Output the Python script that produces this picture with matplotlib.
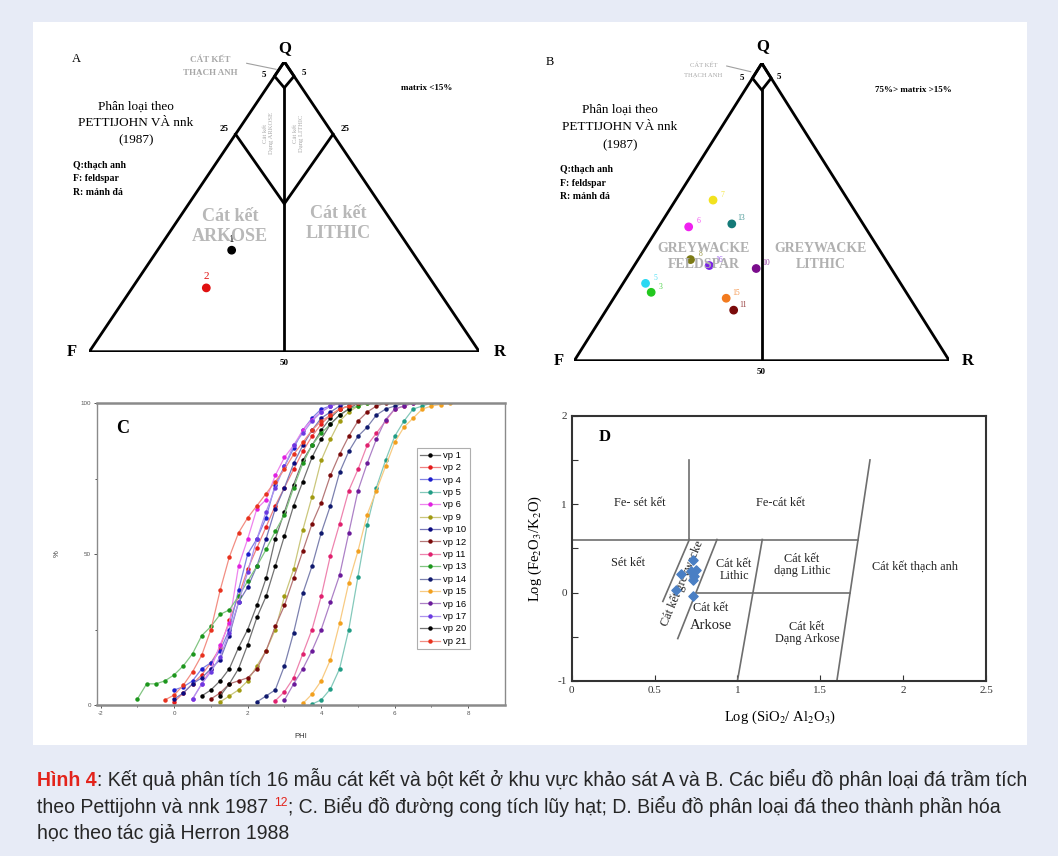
import numpy as np
import matplotlib.pyplot as plt
from matplotlib.patches import Rectangle
from matplotlib.lines import Line2D

plt.rcParams["axes.unicode_minus"] = False
plt.rcParams["mathtext.fontset"] = "stix"

W, H = 1058, 856
SERIF = ["Liberation Serif", "DejaVu Serif"]
SANS = ["Liberation Sans", "DejaVu Sans"]

# ---- panel A / B: ternary points (Q, R in %; F = 100 - Q - R) ----
a_labels = ["1", "2"]
a_q = [35, 22]
a_r = [19, 19]
a_colors = ["black", "#e01010"]

b_labels = ["7", "13", "6", "8", "16", "10", "5", "3", "15", "11"]
b_q = [54, 46, 45, 34, 32, 31, 26, 23, 21, 17]
b_r = [10, 19, 8, 14, 20, 33, 6, 9, 30, 34]
b_colors = ["#f2e21e", "#147a78", "#f020f0", "#7c7a14", "#7a22e6",
            "#7a0c8c", "#2ad8f2", "#22c81e", "#f27a1e", "#7a0a0a"]

# ---- panel C: cumulative grain size curves (start phi, % every 0.25 phi) ----
c_names = ["vp 1", "vp 2", "vp 4", "vp 5", "vp 6", "vp 9", "vp 10", "vp 12",
           "vp 11", "vp 13", "vp 14", "vp 15", "vp 16", "vp 17", "vp 20", "vp 21"]
c_colors = ["#000000", "#e41a1a", "#1c1ccc", "#1f9c84", "#e020e0", "#a09a10",
            "#0a0a80", "#7a0a0a", "#e0206e", "#1c961c", "#101a6e", "#f2a01e",
            "#6a1a9a", "#6a3ae0", "#000000", "#e8321e"]
c_start = [0.75, 0.0, 0.0, 3.75, 0.5, 1.25, 0.0, 1.0,
           2.75, -1.0, 2.25, 3.5, 3.0, 0.5, 1.25, -0.25]
c_vals = [
    [3, 5, 8, 12, 19, 25, 33, 42, 55, 64, 73, 81, 86, 91, 95, 98, 99, 100],
    [1, 4, 7, 10, 14, 19, 28, 36, 45, 52, 59, 66, 72, 78, 84, 89, 93, 96, 98, 99, 100],
    [5, 6, 8, 12, 14, 18, 25, 38, 50, 55, 62, 73, 79, 85, 91, 95, 98, 99, 100],
    [0.3, 1.7, 5.3, 12, 25, 42.5, 59.7, 72, 81, 89, 94, 98, 99, 100],
    [2, 7, 12, 20, 27, 46, 55, 65, 68, 76, 82, 86, 91, 94.5, 97, 99, 100],
    [1, 3, 5, 8, 13, 18, 25, 36, 45, 58, 69, 81, 88, 94, 97, 99, 100],
    [2, 4, 7, 9, 12, 15, 23, 34, 39, 46, 55, 65, 72, 80, 86, 91, 95, 97, 99, 100],
    [2, 4, 7, 8, 9, 12, 18, 26, 33, 42, 51, 60, 67, 76, 83, 89, 94, 97, 99, 100],
    [1.4, 4.4, 9, 17, 25, 36, 49.5, 60, 71, 78, 86, 90, 94, 98, 99, 100],
    [2, 7, 7, 8, 10, 13, 17, 23, 26, 30, 31.5, 36, 41, 46, 51.5, 57.5, 63, 72,
     80, 86, 90, 93, 96, 98, 99, 100],
    [1, 3, 5, 13, 24, 37, 46, 57, 66, 77, 84, 89, 92, 96, 98, 99, 100],
    [0.5, 3.6, 8, 15, 27, 40.5, 51, 63, 71, 79, 87, 92, 95, 98, 99, 99.5, 100],
    [1.6, 7, 12, 18, 25, 34, 43, 57, 71, 80, 88, 94.5, 98, 99, 100],
    [2, 7, 11, 16, 24, 34, 44, 55, 64, 72, 79, 86, 90, 94, 97, 99, 100],
    [3, 7, 12, 20, 29, 36, 46, 56, 66, 74, 82, 88, 93, 96, 98, 100],
    [1.7, 3.3, 6.6, 11, 16.5, 25, 38, 49, 57, 62, 66, 70, 74, 78, 83, 87, 91,
     94, 96, 98, 99, 100],
]

# ---- panel D: Herron diagram samples ----
d_x = [0.73, 0.66, 0.75, 0.72, 0.73, 0.63, 0.73, 0.74]
d_y = [0.37, 0.21, 0.26, 0.24, 0.14, 0.03, -0.04, 0.19]
# field boundaries (x0, y0, x1, y1)
d_bounds = [(0.71, 0.6, 0.71, 1.5), (0.0, 0.6, 1.728, 0.6), (1.6, -1.0, 1.8, 1.5),
            (0.756, 0.0, 1.68, 0.0), (0.55, -0.1, 0.71, 0.6),
            (0.64, -0.52, 0.877, 0.6), (1.0, -1.0, 1.15, 0.6)]

fig = plt.figure(figsize=(W / 100, H / 100), dpi=100)
fig.patch.set_facecolor("#e7ebf6")
fig.add_artist(Rectangle((33 / W, 1 - 745 / H), (1027 - 33) / W, (745 - 22) / H,
                         transform=fig.transFigure, fc="white", ec="none", zorder=0))


def px_axes(l, t, r, b):
    return fig.add_axes([l / W, 1 - b / H, (r - l) / W, (b - t) / H])


def ftext(px, py, s, **kw):
    kw.setdefault("ha", "center")
    kw.setdefault("va", "center")
    kw.setdefault("family", SERIF)
    return fig.text(px / W, 1 - py / H, s, **kw)


def fline(p0, p1, **kw):
    fig.add_artist(Line2D([p0[0] / W, p1[0] / W], [1 - p0[1] / H, 1 - p1[1] / H],
                          transform=fig.transFigure, **kw))


def tern(q, r):
    q = np.asarray(q, dtype=float) / 100
    r = np.asarray(r, dtype=float) / 100
    return r + q / 2, q


def draw_ternary(ax, sub_lines):
    segs = [[(100, 0), (0, 0), (0, 100), (100, 0)],
            [(100, 0), (95, 0), (91, 4.5), (95, 5), (100, 0)],
            [(91, 4.5), (0, 50)]] + sub_lines
    for seg in segs:
        q, r = zip(*seg)
        x, y = tern(q, r)
        ax.plot(x, y, color="black", lw=2.0, solid_joinstyle="miter")
    ax.set_xlim(0, 1)
    ax.set_ylim(0, 1)
    ax.axis("off")


# ================= Panel A =================
axA = px_axes(89.3, 61.7, 479.3, 351.7)
draw_ternary(axA, [[(75, 0), (51, 24.5), (75, 25)]])
xa, ya = tern(a_q, a_r)
axA.scatter(xa, ya, s=28, c=a_colors, zorder=5, clip_on=False)
for x, y, lab, c in zip(xa, ya, a_labels, a_colors):
    axA.annotate(lab, (x, y), xytext=(0, 8), textcoords="offset points",
                 ha="center", va="center", fontsize=8, color=c, family=SERIF)

ftext(76.7, 59.3, "A", fontsize=9)
ftext(285, 48, "Q", fontsize=12, weight="bold")
ftext(71.7, 351.7, "F", fontsize=12, weight="bold")
ftext(499.3, 351.7, "R", fontsize=12, weight="bold")
ftext(284, 363, "50", fontsize=6.5, weight="bold")
ftext(264, 75, "5", fontsize=6.5, weight="bold")
ftext(304, 73.3, "5", fontsize=6.5, weight="bold")
ftext(224.3, 129.3, "25", fontsize=6.5, weight="bold")
ftext(345, 129.3, "25", fontsize=6.5, weight="bold")
ftext(210, 60, "CÁT KẾT", fontsize=6.5, color="#a8a8a8", weight="bold")
ftext(210, 73.3, "THẠCH ANH", fontsize=6.5, color="#a8a8a8", weight="bold")
fline((246.7, 63.3), (276, 69.3), color="#a0a0a0", lw=0.8)
ftext(426.7, 87.7, "matrix <15%", fontsize=6.5, weight="bold")
ftext(136, 106.7, "Phân loại theo", fontsize=9.5)
ftext(136, 123.3, "PETTIJOHN VÀ nnk", fontsize=9.5)
ftext(136, 140, "(1987)", fontsize=9.5)
for py, s in zip([165, 178.3, 192.3], ["Q:thạch anh", "F: feldspar", "R: mảnh đá"]):
    ftext(73.3, py, s, fontsize=7, weight="bold", ha="left")
ftext(230, 216.7, "Cát kết", fontsize=13, color="#b8b8b8", weight="bold")
ftext(230, 236.7, "ARKOSE", fontsize=13, color="#b8b8b8", weight="bold")
ftext(338.3, 213.3, "Cát kết", fontsize=13, color="#b8b8b8", weight="bold")
ftext(338.3, 233.3, "LITHIC", fontsize=13, color="#b8b8b8", weight="bold")
ftext(268.3, 133.3, "Cát kết\nDạng ARKOSE", fontsize=4.8, color="#a8a8a8",
      rotation=90, linespacing=1.1)
ftext(298.3, 133.3, "Cát kết\nDạng LITHIC", fontsize=4.8, color="#a8a8a8",
      rotation=90, linespacing=1.1)

# ================= Panel B =================
axB = px_axes(574.3, 63.3, 949.3, 360.7)
draw_ternary(axB, [])
xb, yb = tern(b_q, b_r)
axB.scatter(xb, yb, s=28, c=b_colors, zorder=5, clip_on=False)
for x, y, lab, c in zip(xb, yb, b_labels, b_colors):
    axB.annotate(lab, (x, y), xytext=(7, 4), textcoords="offset points",
                 ha="center", va="center", fontsize=5.5, color=c, alpha=0.8,
                 family=SERIF)

ftext(550, 61.7, "B", fontsize=9)
ftext(762.7, 46.5, "Q", fontsize=12, weight="bold")
ftext(559.3, 360.7, "F", fontsize=12, weight="bold")
ftext(967.7, 360.7, "R", fontsize=12, weight="bold")
ftext(760.7, 372, "50", fontsize=6.5, weight="bold")
ftext(741.7, 78.3, "5", fontsize=6.5, weight="bold")
ftext(779.3, 76.7, "5", fontsize=6.5, weight="bold")
ftext(703.3, 65, "CÁT KẾT", fontsize=4.8, color="#a8a8a8")
ftext(703.3, 75, "THẠCH ANH", fontsize=4.8, color="#a8a8a8")
fline((726.7, 66), (750.7, 71.7), color="#a0a0a0", lw=0.8)
ftext(913.3, 90, "75%> matrix >15%", fontsize=6.5, weight="bold")
ftext(620, 110, "Phân loại theo", fontsize=9.5)
ftext(620, 126.7, "PETTIJOHN VÀ nnk", fontsize=9.5)
ftext(620, 145, "(1987)", fontsize=9.5)
for py, s in zip([169, 183.3, 196.7], ["Q:thạch anh", "F: feldspar", "R: mảnh đá"]):
    ftext(560, py, s, fontsize=7, weight="bold", ha="left")
ftext(703.3, 248.3, "GREYWACKE", fontsize=10, color="#b0b0b0", weight="bold")
ftext(703.3, 265, "FELDSPAR", fontsize=10, color="#b0b0b0", weight="bold")
ftext(821, 248.3, "GREYWACKE", fontsize=10, color="#b0b0b0", weight="bold")
ftext(821, 265, "LITHIC", fontsize=10, color="#b0b0b0", weight="bold")

# ================= Panel C =================
axC = px_axes(97, 403, 505, 705)
for name, col, st, vals in zip(c_names, c_colors, c_start, c_vals):
    phi = st + 0.25 * np.arange(len(vals))
    rgb = np.array(plt.matplotlib.colors.to_rgb(col))
    light = tuple(rgb + (1 - rgb) * 0.45)
    axC.plot(phi, vals, color=light, lw=0.9, marker="o", ms=2.2,
             mfc=col, mec=col, label=name)
axC.set_xlim(-2.1, 9.0)
axC.set_ylim(0, 100)
axC.set_xticks([-2, 0, 2, 4, 6, 8])
axC.set_xticks([-1, 1, 3, 5, 7], minor=True)
axC.set_yticks([0, 50, 100])
axC.set_yticks([25, 75], minor=True)
axC.tick_params(which="both", direction="out", labelsize=4.5, colors="#555555",
                length=2.5, width=0.7, pad=2)
axC.tick_params(which="minor", length=1.5)
for sp in axC.spines.values():
    sp.set_color("#8a8a8a")
    sp.set_linewidth(1.0)
axC.spines["top"].set_linewidth(1.8)
axC.spines["bottom"].set_linewidth(1.8)
for lab in axC.get_xticklabels() + axC.get_yticklabels():
    lab.set_family(SANS)
axC.set_xlabel("PHI", fontsize=5.5, family=SANS, color="#333333")
axC.xaxis.set_label_coords(0.5, -0.093)
axC.set_ylabel("%", fontsize=5.5, family=SANS, color="#333333")
axC.yaxis.set_label_coords(-0.09, 0.5)
axC.text(0.062, 0.917, "C", transform=axC.transAxes, fontsize=13, weight="bold",
         family=SERIF, ha="center", va="center")
leg = axC.legend(loc="upper left", bbox_to_anchor=(417 / W, 1 - 448 / H),
                 bbox_transform=fig.transFigure, frameon=True, fancybox=False,
                 edgecolor="#9a9a9a", borderpad=0.3, borderaxespad=0,
                 labelspacing=0.36, handlelength=2.1, handletextpad=0.4,
                 prop={"family": SANS, "size": 6.8})
leg.get_frame().set_linewidth(0.8)

# ================= Panel D =================
axD = px_axes(571.7, 415.7, 986, 681)
for x0, y0, x1, y1 in d_bounds:
    axD.plot([x0, x1], [y0, y1], color="#6e6e6e", lw=1.2)
axD.scatter(d_x, d_y, marker="D", s=22, color="#4a7fc4", zorder=5)
axD.set_xlim(0, 2.5)
axD.set_ylim(-1, 2)
axD.set_xticks([0, 0.5, 1, 1.5, 2, 2.5])
axD.set_xticklabels(["0", "0.5", "1", "1.5", "2", "2.5"])
axD.set_yticks([-1, 0, 1, 2])
axD.set_yticks([-0.5, 0.5, 1.5], minor=True)
axD.tick_params(which="both", direction="in", labelsize=8, length=4, width=0.8,
                colors="#333333", top=False, right=False)
for lab in axD.get_xticklabels() + axD.get_yticklabels():
    lab.set_family(SERIF)
for sp in axD.spines.values():
    sp.set_color("#333333")
    sp.set_linewidth(1.5)
axD.set_xlabel("Log (SiO$_2$/ Al$_2$O$_3$)", fontsize=10.5, family=SERIF)
axD.xaxis.set_label_coords(0.503, -0.105)
axD.set_ylabel("Log (Fe$_2$O$_3$/K$_2$O)", fontsize=10.5, family=SERIF)
axD.yaxis.set_label_coords(-0.068, 0.5)
axD.text(0.08, 0.92, "D", transform=axD.transAxes, fontsize=12, weight="bold",
         family=SERIF, ha="center", va="center")
dk = dict(fontsize=8.8, family=SERIF, ha="center", va="center", color="#222222",
          linespacing=1.05)
axD.text(0.41, 1.01, "Fe- sét kết", **dk)
axD.text(1.26, 1.01, "Fe-cát kết", **dk)
axD.text(0.34, 0.33, "Sét kết", **dk)
axD.text(0.98, 0.255, "Cát kết\nLithic", **dk)
axD.text(1.39, 0.31, "Cát kết\ndạng Lithic", **dk)
axD.text(2.07, 0.29, "Cát kết thạch anh", **dk)
axD.text(0.84, -0.17, "Cát kết", **dk)
axD.text(0.84, -0.37, "Arkose", **{**dk, "fontsize": 10.5})
axD.text(1.42, -0.46, "Cát kết\nDạng Arkose", **dk)
axD.text(0.665, 0.1, "Cát kết greywacke", rotation=67, **dk)

# ================= Caption =================
cap_font = SANS
renderer = fig.canvas.get_renderer()
red = "#e3231b"
line1 = [("Hình 4", {"color": red, "weight": "bold"}),
         (": Kết quả phân tích 16 mẫu cát kết và bột kết ở khu vực khảo sát A và B. "
          "Các biểu đồ phân loại đá trầm tích", {})]

# fit the caption size so that the first line spans the white panel
probe = [ftext(0, 0, s, ha="left", family=cap_font, fontsize=13,
               weight=kw.get("weight", "normal")) for s, kw in line1]
width13 = sum(t.get_window_extent(renderer).width for t in probe)
for t in probe:
    t.remove()
fs = 13 * (988 / width13)


def cap_run(px, py, parts):
    x = px
    for s, kw in parts:
        t = ftext(x, py, s, ha="left", va="baseline", family=cap_font,
                  fontsize=kw.get("size", fs), color=kw.get("color", "#262626"),
                  weight=kw.get("weight", "normal"))
        x += t.get_window_extent(renderer).width
    return x


cap_run(37, 786, line1)
x2 = cap_run(37, 813, [("theo Pettijohn và nnk 1987 ", {})])
sup = ftext(x2, 806, "12", color=red, fontsize=fs * 0.62, family=cap_font,
            ha="left", va="baseline")
x3 = x2 + sup.get_window_extent(renderer).width + 1
cap_run(x3, 813, [("; C. Biểu đồ đường cong tích lũy hạt; D. Biểu đồ phân loại đá "
                   "theo thành phần hóa", {})])
cap_run(37, 839, [("học theo tác giả Herron 1988", {})])

fig.savefig("out.png", dpi=100, facecolor=fig.get_facecolor())
